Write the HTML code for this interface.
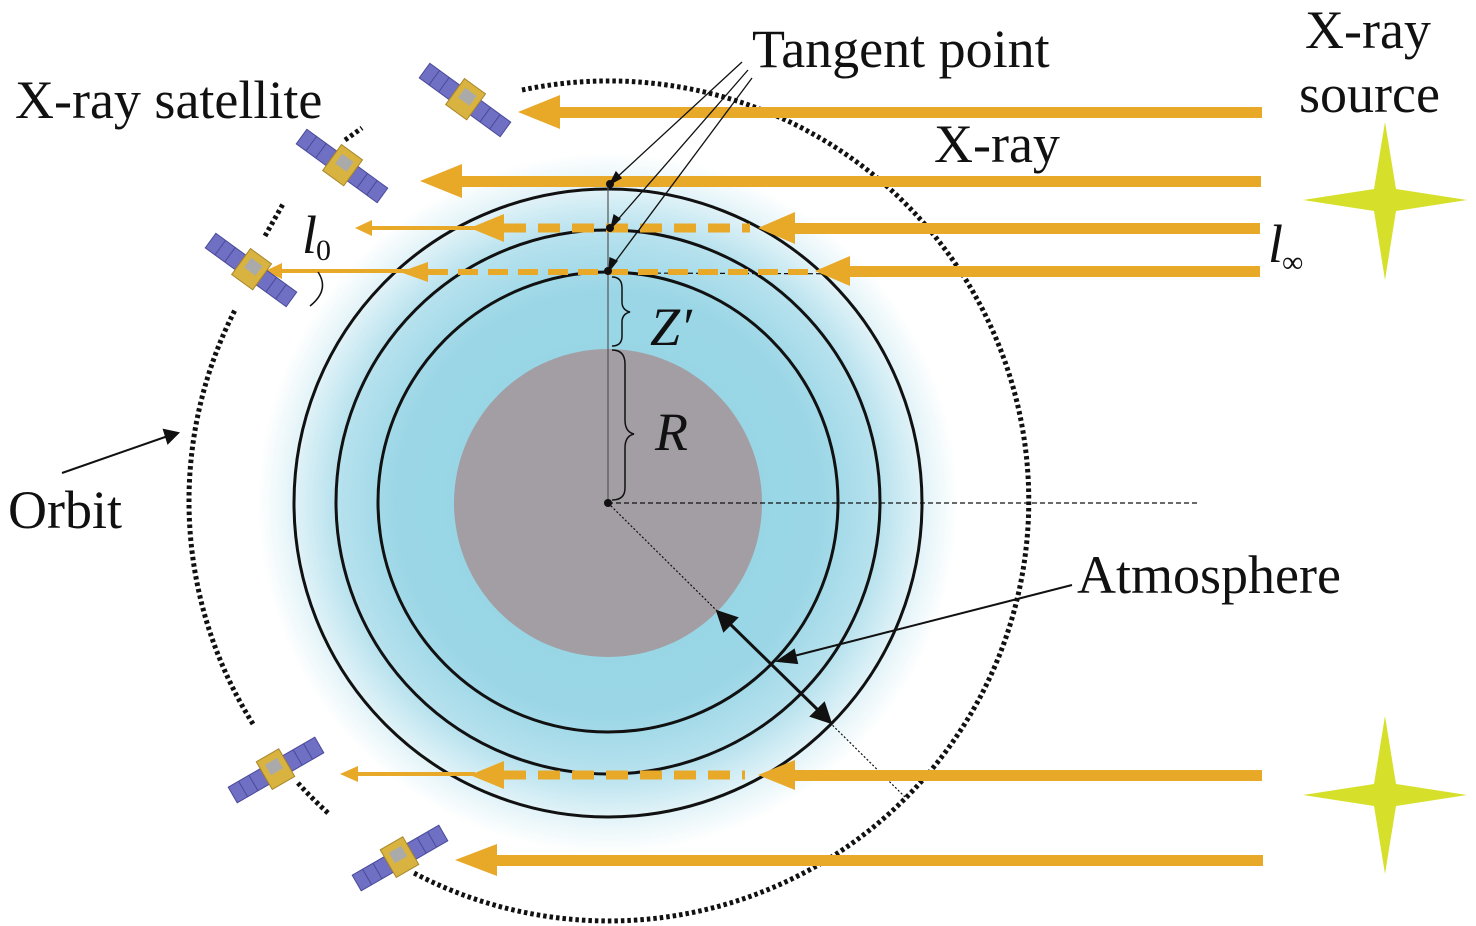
<!DOCTYPE html>
<html><head><meta charset="utf-8"><style>
html,body{margin:0;padding:0;background:#fff;}
svg{display:block;}
</style></head><body>
<svg width="1476" height="926" viewBox="0 0 1476 926" xmlns="http://www.w3.org/2000/svg" font-family="Liberation Serif, Times New Roman, serif">
<defs>
<radialGradient id="glow" cx="608" cy="503" r="350" gradientUnits="userSpaceOnUse">
<stop offset="0" stop-color="#94d4e4"/>
<stop offset="0.6" stop-color="#9ad6e6"/>
<stop offset="0.78" stop-color="#b8e2ee"/>
<stop offset="0.9" stop-color="#e2f3f8"/>
<stop offset="1" stop-color="#ffffff"/>
</radialGradient>
<g id="sat">
<rect x="-50" y="-9" width="37" height="18" fill="#6f6fc4" stroke="#4a4a9a" stroke-width="1"/>
<line x1="-38" y1="-9" x2="-38" y2="9" stroke="#4a4a9a"/><line x1="-26" y1="-9" x2="-26" y2="9" stroke="#4a4a9a"/>
<rect x="13" y="-9" width="37" height="18" fill="#6f6fc4" stroke="#4a4a9a" stroke-width="1"/>
<line x1="25" y1="-9" x2="25" y2="9" stroke="#4a4a9a"/><line x1="37" y1="-9" x2="37" y2="9" stroke="#4a4a9a"/>
<rect x="-13" y="-17" width="26" height="32" fill="#d9b340" stroke="#a8862a"/>
<rect x="-7" y="-10" width="14" height="12" fill="#aaa"/>
</g>
</defs>

<circle cx="608" cy="503" r="350" fill="url(#glow)"/>
<circle cx="608" cy="503" r="154" fill="#a39ea3"/>
<circle cx="608" cy="503" r="314" fill="none" stroke="#111" stroke-width="3"/>
<circle cx="608" cy="502" r="272" fill="none" stroke="#111" stroke-width="3"/>
<circle cx="608" cy="502" r="230" fill="none" stroke="#111" stroke-width="3"/>

<g fill="none" stroke="#111" stroke-width="5" stroke-dasharray="3.5 3">
<path d="M522 90 A420 420 0 1 1 412 872"/>
<path d="M328 813 A420 420 0 0 1 297 782"/>
<path d="M253 724 A420 420 0 0 1 235 310"/>
<path d="M265 236 L283 204"/>
<path d="M345 140 L362 128"/>
</g>

<line x1="608" y1="503" x2="1200" y2="503" stroke="#111" stroke-width="1.2" stroke-dasharray="5 3"/>
<line x1="608" y1="273" x2="1200" y2="275" stroke="#111" stroke-width="1.2" stroke-dasharray="5 3"/>
<line x1="608" y1="503" x2="905" y2="797" stroke="#111" stroke-width="1.2" stroke-dasharray="2 2"/>
<line x1="608" y1="183" x2="608" y2="503" stroke="#555" stroke-width="1.2"/>

<g fill="#e8a828" stroke="none">
<rect x="550" y="107" width="712" height="11"/><polygon points="518,112 560,95 560,129"/>
<rect x="455" y="176" width="806" height="11"/><polygon points="420,181 462,164 462,198"/>
<rect x="790" y="223" width="470" height="11"/><polygon points="758,228 795,212 795,244"/>
<polygon points="470,228 504,214 504,242"/><rect x="370" y="226" width="110" height="4"/><polygon points="355,228 372,220 372,236"/>
<rect x="840" y="266" width="420" height="11"/><polygon points="815,271 850,256 850,286"/>
<polygon points="400,272 428,262 428,282"/><rect x="280" y="269" width="130" height="4"/><polygon points="265,271 282,263 282,279"/>
<rect x="790" y="770" width="472" height="11"/><polygon points="758,775 795,760 795,790"/>
<polygon points="470,775 504,761 504,789"/><rect x="355" y="772" width="120" height="4"/><polygon points="340,774 358,766 358,782"/>
<rect x="480" y="855" width="783" height="11"/><polygon points="455,860 497,844 497,876"/>
</g>
<g stroke="#e8a828" fill="none">
<line x1="504" y1="228" x2="750" y2="228" stroke-width="9" stroke-dasharray="22 12"/>
<line x1="428" y1="272" x2="815" y2="272" stroke-width="6" stroke-dasharray="20 10"/>
<line x1="504" y1="775" x2="745" y2="775" stroke-width="9" stroke-dasharray="22 12"/>
</g>

<circle cx="610" cy="184" r="4" fill="#111"/>
<circle cx="610" cy="228" r="4" fill="#111"/>
<circle cx="608" cy="271" r="4" fill="#111"/>
<circle cx="608" cy="503" r="4" fill="#111"/>
<g stroke="#111" stroke-width="1.3" fill="#111">
<line x1="742" y1="62" x2="614" y2="180"/>
<line x1="748" y1="70" x2="614" y2="224"/>
<line x1="752" y1="78" x2="612" y2="266"/>
<polygon points="610,184 616,172 621,178"/>
<polygon points="611,228 614,215 620,219"/>
<polygon points="609,271 610,258 617,261"/>
</g>

<g fill="none" stroke="#111" stroke-width="1.5">
<path d="M612 277 Q622 277 622 288 L622 302 Q622 310 630 312 Q622 314 622 322 L622 336 Q622 346 612 346"/>
<path d="M612 350 Q625 350 625 364 L625 420 Q625 432 634 434 Q625 436 625 448 L625 488 Q625 500 612 500"/>
</g>

<g stroke="#111" stroke-width="3" fill="#111">
<line x1="728" y1="622" x2="820" y2="712"/>
<polygon points="718,612 736,618 724,630"/>
<polygon points="830,722 812,716 824,704"/>
</g>
<g stroke="#111" stroke-width="2" fill="#111">
<line x1="1072" y1="585" x2="790" y2="657"/>
<polygon points="778,661 794,650 797,663"/>
<line x1="62" y1="473" x2="168" y2="436"/>
<polygon points="178,433 164,430 168,443"/>
</g>

<path d="M318 272 Q330 290 310 306" fill="none" stroke="#111" stroke-width="1.5"/>

<use href="#sat" transform="translate(465,100) rotate(36)"/>
<use href="#sat" transform="translate(342,166) rotate(36)"/>
<use href="#sat" transform="translate(251,270) rotate(36)"/>
<use href="#sat" transform="translate(276,770) rotate(-30)"/>
<use href="#sat" transform="translate(400,858) rotate(-30)"/>

<g fill="#d6e02a">
<path d="M1385 122 L1396 189 L1467 200 L1396 211 L1385 280 L1374 211 L1303 200 L1374 189Z"/>
<path d="M1385 716 L1396 784 L1467 795 L1396 806 L1385 874 L1374 806 L1303 795 L1374 784Z"/>
</g>

<g fill="#111" font-size="54">
<text x="752" y="67">Tangent point</text>
<text x="15" y="118">X-ray satellite</text>
<text x="1305" y="48">X-ray</text>
<text x="1299" y="112">source</text>
<text x="934" y="162">X-ray</text>
<text x="8" y="528">Orbit</text>
<text x="1077" y="593">Atmosphere</text>
<text x="655" y="450" font-style="italic">R</text>
<text x="650" y="345" font-style="italic">Z′</text>
<text x="302" y="253" font-style="italic">l</text>
<text x="316" y="260" font-size="30">0</text>
<text x="1268" y="262" font-style="italic">l</text>
<text x="1282" y="272" font-size="30">∞</text>
</g>
</svg>
</body></html>
